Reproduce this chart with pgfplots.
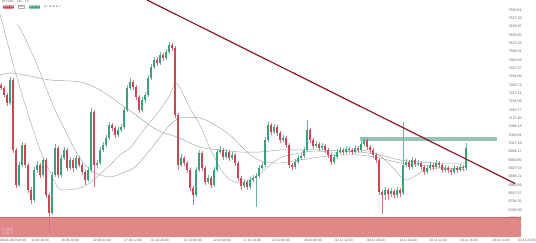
\documentclass[border=0pt]{standalone}
\usepackage{pgfplots}
\usepackage{pgfplotstable}
\pgfplotsset{compat=1.18}
\usepackage{fontspec}
\setmainfont{Liberation Sans}
\newfontfamily\symfont{DejaVu Sans}
\definecolor{upc}{RGB}{60,160,120}
\definecolor{dnc}{RGB}{205,70,85}
\definecolor{zone}{RGB}{224,136,136}
\definecolor{zoneedge}{RGB}{205,105,105}
\definecolor{resist}{RGB}{150,196,180}
\definecolor{trend}{RGB}{140,25,40}
\definecolor{maA}{RGB}{178,165,165}
\definecolor{maB}{RGB}{165,165,165}
\definecolor{maC}{RGB}{150,170,182}
\definecolor{lbl}{RGB}{95,95,95}

\pgfplotstableread{
x o h l c
10 7188 7292 7180 7280
19 6860 6952 6852 6940
22 6940 7032 6932 7020
34 6800 6932 6792 6920
37 6920 6956 6908 6940
43 6900 6972 6892 6960
52 6748 6912 6740 6900
55 6900 7024 6892 7008
61 6900 6980 6892 6968
64 6968 7012 6960 7000
70 6928 6972 6920 6960
76 6928 6980 6920 6968
88 6880 6932 6872 6920
91 6920 7168 6912 7152
97 6940 6960 6928 6948
100 6948 7012 6940 7000
103 7000 7032 6992 7020
106 7020 7060 7012 7048
109 7048 7112 7040 7100
118 7060 7092 7052 7080
121 7080 7104 7072 7092
124 7092 7172 7084 7160
127 7160 7260 7152 7248
130 7248 7288 7240 7272
142 7160 7212 7152 7200
145 7200 7232 7188 7220
148 7220 7300 7212 7288
151 7288 7344 7280 7332
154 7332 7372 7324 7360
160 7348 7392 7340 7380
166 7368 7404 7360 7392
169 7392 7432 7384 7420
181 6940 6984 6932 6968
196 6820 6932 6812 6920
199 6920 7000 6912 6988
208 6872 6900 6864 6888
214 6860 6932 6852 6920
217 6920 7004 6912 6992
220 6992 7016 6984 7000
226 6972 7004 6964 6992
232 6968 6992 6960 6980
244 6856 6884 6848 6872
250 6852 6892 6844 6880
253 6880 6900 6872 6888
256 6888 6908 6772 6896
259 6896 6940 6888 6928
262 6928 6952 6920 6940
265 6940 7052 6932 7040
268 7040 7112 7032 7100
274 7072 7104 7064 7092
283 7040 7060 7032 7048
295 6932 6964 6924 6952
298 6952 6980 6944 6968
301 6968 6988 6960 6976
304 6976 7012 6968 7000
307 7000 7120 6992 7080
316 7016 7036 7008 7024
322 7008 7028 7000 7016
334 6952 6984 6944 6972
337 6972 7004 6964 6992
340 6992 7012 6984 7000
346 6992 7016 6984 7004
355 6992 7020 6984 7008
361 7000 7036 6992 7024
364 7024 7052 7016 7040
385 6820 6852 6800 6840
391 6824 6848 6812 6836
397 6820 6852 6808 6840
403 6828 7112 6820 6940
406 6940 6964 6932 6952
412 6932 6972 6924 6960
418 6944 6960 6936 6948
427 6912 6940 6904 6928
430 6928 6952 6920 6940
436 6932 6960 6924 6948
445 6920 6940 6912 6928
454 6912 6940 6904 6928
460 6920 6944 6912 6932
466 6928 7028 6920 7008
}\uptab

\pgfplotstableread{
x o h l c
1 7260 7268 7240 7248
4 7248 7256 7212 7220
7 7220 7228 7176 7188
13 7280 7288 6988 7000
16 7000 7008 6848 6860
25 7020 7028 6928 6940
28 6940 6948 6828 6840
31 6840 6852 6784 6800
40 6940 6948 6888 6900
46 6960 6968 6808 6820
49 6820 6828 6668 6748
58 7008 7016 6888 6900
67 7000 7008 6916 6928
73 6960 6968 6912 6928
79 6968 6976 6932 6940
82 6940 6948 6900 6912
85 6912 6920 6860 6880
94 7152 7160 6852 6940
112 7100 7108 7076 7088
115 7088 7096 7048 7060
133 7272 7280 7240 7252
136 7252 7260 7200 7212
139 7212 7220 7148 7160
157 7360 7372 7336 7348
163 7380 7388 7356 7368
172 7420 7428 7396 7408
175 7408 7416 7128 7140
178 7140 7148 6920 6940
184 6968 6976 6936 6948
187 6948 6956 6908 6920
190 6920 6928 6836 6848
193 6848 6856 6780 6820
202 6988 6996 6916 6928
205 6928 6936 6860 6872
211 6888 6896 6848 6860
223 7000 7008 6960 6972
229 6992 7000 6956 6968
235 6980 6988 6936 6948
238 6948 6956 6876 6888
241 6888 6896 6840 6856
247 6872 6880 6840 6852
271 7100 7108 7060 7072
277 7092 7100 7056 7068
280 7068 7076 7028 7040
286 7048 7056 7008 7020
289 7020 7028 6928 6940
292 6940 6948 6920 6932
310 7080 7088 7028 7040
313 7040 7048 7004 7016
319 7024 7032 6996 7008
325 7016 7024 6988 7000
328 7000 7008 6968 6980
331 6980 6988 6940 6952
343 7000 7008 6980 6992
349 7004 7012 6988 7000
352 7000 7008 6980 6992
358 7008 7016 6988 7000
367 7040 7048 7000 7012
370 7012 7020 6988 7000
373 7000 7008 6968 6980
376 6980 6988 6948 6960
379 6960 6968 6820 6832
382 6832 6840 6744 6820
388 6840 6848 6800 6824
394 6836 6844 6808 6820
400 6840 6848 6812 6828
409 6952 6960 6920 6932
415 6960 6968 6932 6944
421 6948 6956 6920 6932
424 6932 6940 6900 6912
433 6940 6948 6920 6932
439 6948 6956 6928 6940
442 6940 6948 6908 6920
448 6928 6936 6908 6920
451 6920 6928 6900 6912
457 6928 6936 6908 6920
463 6932 6940 6916 6928
}\dntab

\begin{document}
\begin{tikzpicture}
\path[use as bounding box] (0pt,-6pt) rectangle (536pt,237pt);
\begin{axis}[
  scale only axis, width=505pt, height=237pt,
  xmin=0, xmax=505, ymin=6652, ymax=7600,
  clip=false,
  axis line style={draw=none},
  major tick length=0pt,
  scaled y ticks=false,
  ytick={6660.97,6694.29,6727.61,6760.93,6794.25,6827.57,6860.89,6894.21,6927.53,6960.85,6994.17,7027.49,7060.81,7094.13,7127.45,7160.77,7194.09,7227.41,7260.73,7294.05,7327.37,7360.69,7394.01,7427.33,7460.65,7493.97,7527.29,7560.61},
  yticklabel pos=right,
  yticklabel style={font=\fontsize{3.6}{4}\selectfont, text=lbl, anchor=west, inner sep=0.5pt, xshift=3pt,
    /pgf/number format/.cd, fixed, fixed zerofill, precision=2, 1000 sep={}, assume math mode=true},
  xtick={13,40,70,102,133,160,193,222,252,281,313,344,376,408,438,469,501},
  xticklabels={09.09.2019 08:00,11.09 16:00,16.09 20:00,22.09 04:00,27.09 12:00,01.10 20:00,07.10 00:00,12.10 08:00,17.10 16:00,22.10 00:00,28.10 08:00,02.11 12:00,08.11 20:00,14.11 04:00,19.11 12:00,24.11 16:00,29.11 14:00},
  xticklabel style={font=\fontsize{3.3}{4}\selectfont, text=lbl, anchor=north, inner sep=0.5pt, yshift=-1pt},
  candle/.style={draw=none, mark=none, forget plot, error bars/.cd, y dir=both, y explicit, error mark=none},
]
% support zone
\addplot[fill=zone, draw=none, forget plot] coordinates {(0,6652) (521,6652) (521,6732) (0,6732)} --cycle;
\addplot[zoneedge, line width=0.4pt, forget plot] coordinates {(0,6732) (521,6732)};
% resistance bar
\addplot[fill=resist, draw=none, forget plot] coordinates {(360,7036) (497,7036) (497,7052) (360,7052)} --cycle;
% moving averages
\addplot[maA, line width=0.45pt, smooth, forget plot] coordinates {
(0,7544) (5,7468) (12,7360) (20,7248) (30,7120) (40,7000) (50,6912) (58,6848) (65,6840) (80,6848) (90,6868) (100,6904) (110,6940) (120,6980) (130,7008) (140,7060) (150,7112) (160,7160) (170,7220) (175,7268) (180,7248) (190,7168) (200,7100) (210,7008) (220,6928) (228,6888) (238,6868) (250,6880) (260,6904) (270,6940) (280,6968) (290,6980) (300,6988) (315,6996) (330,6992) (345,6992) (360,7000) (375,6988) (385,6960) (395,6920) (405,6880) (415,6896) (425,6920) (440,6928) (455,6924) (466,6936)};
\addplot[maB, line width=0.45pt, smooth, forget plot] coordinates {
(17,7504) (22,7472) (35,7360) (45,7260) (55,7160) (65,7080) (75,7000) (85,6940) (95,6908) (110,6892) (125,6912) (135,6932) (150,7000) (160,7052) (170,7100) (180,7128) (200,7128) (215,7100) (230,7060) (245,7000) (255,6968) (265,6952) (280,6948) (300,6960) (320,6972) (340,6980) (360,6980) (380,6968) (400,6948) (420,6940) (440,6932) (466,6920)};
\addplot[maC, line width=0.5pt, smooth, forget plot] coordinates {
(0,7300) (10,7308) (30,7296) (50,7280) (80,7272) (100,7240) (133,7148) (157,7080) (177,7052) (200,7012) (220,7000) (240,6992) (260,6992) (280,7000) (300,7000) (320,7000) (340,6996) (360,6992) (380,6980) (400,6960) (420,6952) (440,6948) (466,6948)};
% wicks
\addplot[candle, error bar style={draw=upc!75, line width=0.4pt}]
  table[x=x, y expr={(\thisrow{h}+\thisrow{l})/2}, y error expr={(\thisrow{h}-\thisrow{l})/2}] {\uptab};
\addplot[candle, error bar style={draw=dnc!75, line width=0.4pt}]
  table[x=x, y expr={(\thisrow{h}+\thisrow{l})/2}, y error expr={(\thisrow{h}-\thisrow{l})/2}] {\dntab};
% bodies
\addplot[candle, error bar style={draw=upc, line width=2pt}]
  table[x=x, y expr={(\thisrow{o}+\thisrow{c})/2}, y error expr={abs(\thisrow{c}-\thisrow{o})/2}] {\uptab};
\addplot[candle, error bar style={draw=dnc, line width=2pt}]
  table[x=x, y expr={(\thisrow{o}+\thisrow{c})/2}, y error expr={abs(\thisrow{c}-\thisrow{o})/2}] {\dntab};
% trend line
\addplot[trend, line width=1.2pt, forget plot] coordinates {(147,7600) (515,6866)};
% header UI
\node[anchor=west, font=\fontsize{2.8}{3}\selectfont, text=lbl, inner sep=0pt] at (axis cs:2,7592) {BTCUSD \,·\, 240 \,·\, FX};
\node[anchor=west, fill=dnc, text=white, rounded corners=0.4pt, inner sep=0.6pt, font=\fontsize{2.6}{3}\selectfont] at (axis cs:3,7572) {6971.49};
\node[anchor=west, draw=lbl!50, line width=0.2pt, text=lbl, inner sep=0.6pt, font=\fontsize{2.6}{3}\selectfont] at (axis cs:18,7572) {0.00};
\node[anchor=west, fill=upc, text=white, rounded corners=0.4pt, inner sep=0.6pt, font=\fontsize{2.6}{3}\selectfont] at (axis cs:29,7572) {6971.49};
\node[anchor=west, text=lbl, inner sep=0pt, font=\symfont\fontsize{2.8}{3}\selectfont] at (axis cs:44,7572) {≡\,\,∕\,\,⊕\,\,⊕\,\,⊕\,\,⊥};
% zone text
\node[anchor=west, text=white!85!zone, inner sep=0pt, font=\fontsize{2}{2.4}\selectfont, align=left] at (axis cs:2,6676) {P1: 6711.24\\P2: 6688.05\\P3: 6664.70};
% last date label
\node[anchor=north, text=lbl, inner sep=0.5pt, yshift=-1pt, font=\fontsize{3.3}{4}\selectfont] at (axis cs:527,6652) {03.12 20:00};
\end{axis}
\end{tikzpicture}
\end{document}
